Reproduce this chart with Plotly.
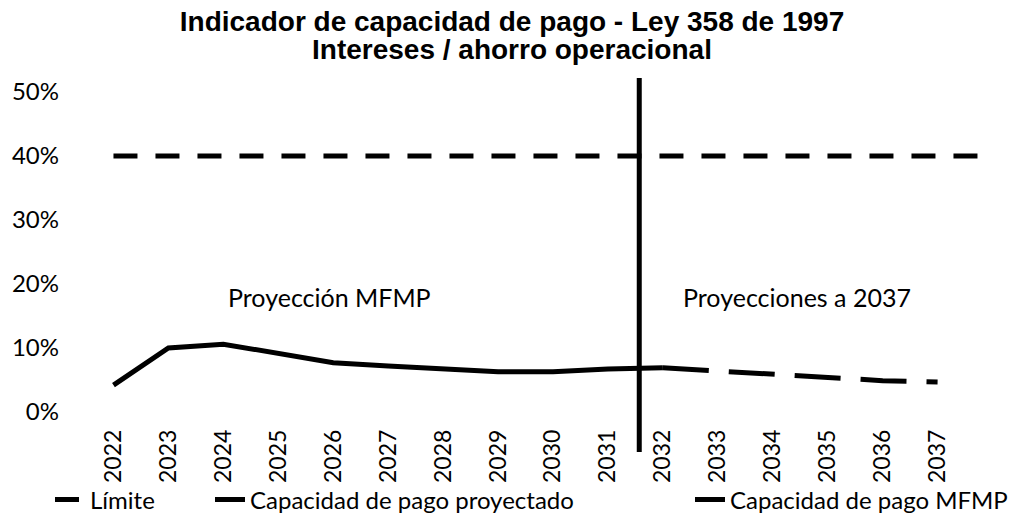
import plotly.graph_objects as go

# ---- data ----
years = list(range(2022, 2038))
limit_years = list(range(2022, 2039))
limite = [0.40] * len(limit_years)

mfmp_years = list(range(2022, 2033))
mfmp = [0.042, 0.100, 0.106, 0.092, 0.077, 0.072, 0.068, 0.063, 0.063, 0.067, 0.069]

proj_years = list(range(2032, 2038))
proyectado = [0.069, 0.064, 0.059, 0.054, 0.049, 0.047]

tick_labels = [str(y) for y in years]
title_line1 = "Indicador de capacidad de pago - Ley 358 de 1997"
title_line2 = "Intereses / ahorro operacional"
divider_year = 2031.57

W, H = 1024, 519
L, R, T, B = 86, 4, 92, 107
x_range = [2021.5, 2038.5]
y_range = [0, 0.5]
PW = W - L - R
PH = H - T - B

def xpaper(v):
    return (v - x_range[0]) / (x_range[1] - x_range[0])

def xpaper_px(px):
    return (px - L) / PW

def ypaper_px(py):
    return (H - B - py) / PH

FONT = "Lato"
TITLE_FONT = dict(family="Liberation Sans", size=28, color="black")

fig = go.Figure()
fig.add_trace(go.Scatter(
    x=limit_years, y=limite, mode="lines", name="Límite",
    line=dict(color="black", width=5, dash="24px,18px"), legend="legend"))
fig.add_trace(go.Scatter(
    x=proj_years, y=proyectado, mode="lines", name="Capacidad de pago proyectado",
    line=dict(color="black", width=5, dash="46px,20px"), legend="legend2"))
fig.add_trace(go.Scatter(
    x=mfmp_years, y=mfmp, mode="lines", name="Capacidad de pago MFMP",
    line=dict(color="black", width=5), legend="legend3"))

# vertical divider
fig.add_shape(type="line", xref="paper", yref="paper",
              x0=xpaper(divider_year), x1=xpaper(divider_year),
              y0=ypaper_px(452), y1=ypaper_px(78),
              line=dict(color="black", width=5))

fig.add_annotation(x=2025.93, y=0.18, xref="x", yref="y", text="Proyección MFMP",
                   showarrow=False, font=dict(family=FONT, size=25, color="black"))
fig.add_annotation(x=2034.45, y=0.18, xref="x", yref="y", text="Proyecciones a 2037",
                   showarrow=False, font=dict(family=FONT, size=25, color="black"))

# second title line
fig.add_annotation(x=xpaper_px(W / 2), xref="paper", xanchor="center",
                   y=ypaper_px(50), yref="paper", yanchor="middle",
                   text="<b>" + title_line2 + "</b>", showarrow=False, font=TITLE_FONT)

legend_common = dict(orientation="h", yref="paper",
                     y=ypaper_px(500), yanchor="middle", bgcolor="rgba(0,0,0,0)",
                     font=dict(family=FONT, size=24, color="black"))

fig.update_layout(
    width=W, height=H,
    margin=dict(l=L, r=R, t=T, b=B, autoexpand=False),
    paper_bgcolor="white", plot_bgcolor="white",
    title=dict(text="<b>" + title_line1 + "</b>",
               x=0.5, xanchor="center", xref="container",
               y=1 - 21 / H, yanchor="middle", yref="container",
               font=TITLE_FONT),
    xaxis=dict(range=x_range, tickmode="array", tickvals=years, ticktext=tick_labels,
               tickangle=-90, showgrid=False, zeroline=False, showline=False,
               ticks="", ticklabelstandoff=12,
               tickfont=dict(family=FONT, size=23, color="black")),
    yaxis=dict(range=y_range, tickmode="linear", tick0=0, dtick=0.1, tickformat=".0%",
               showgrid=False, zeroline=False, showline=False, ticks="",
               ticklabelstandoff=26,
               tickfont=dict(family=FONT, size=24, color="black")),
    legend=dict(x=xpaper_px(50), xanchor="left", **legend_common),
    legend2=dict(x=xpaper_px(210), xanchor="left", **legend_common),
    legend3=dict(x=xpaper_px(690), xanchor="left", **legend_common),
    showlegend=True,
)

fig.write_html("out.html", config={"displayModeBar": False},
               post_script="document.body.style.margin='0';")
